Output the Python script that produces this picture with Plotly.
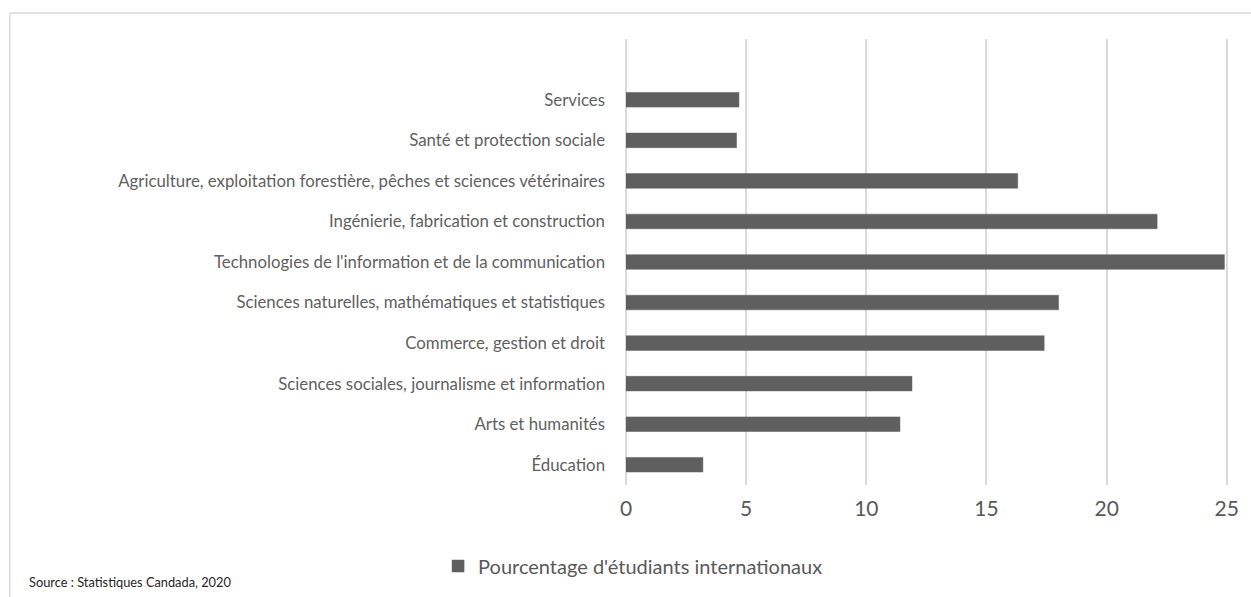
import plotly.graph_objects as go

categories = [
    "Éducation",
    "Arts et humanités",
    "Sciences sociales, journalisme et information",
    "Commerce, gestion et droit",
    "Sciences naturelles, mathématiques et statistiques",
    "Technologies de l'information et de la communication",
    "Ingénierie, fabrication et construction",
    "Agriculture, exploitation forestière, pêches et sciences vétérinaires",
    "Santé et protection sociale",
    "Services",
]
values = [3.2, 11.4, 11.9, 17.4, 18.0, 24.9, 22.1, 16.3, 4.6, 4.7]
x_ticks = [0, 5, 10, 15, 20, 25]
series_name = "Pourcentage d'étudiants internationaux"
source_text = "Source : Statistiques Candada, 2020"

W, H = 1251, 597
X_MAX = 25.05
L, T, B = 626, 39, 485  # plot area pixel bounds
PX_PER_UNIT = (1227 - 626) / 25.0
R = L + X_MAX * PX_PER_UNIT


def px_x(p):
    return (p - L) / (R - L)


def px_y(p):
    return (B - p) / (B - T)


FONT = "Lato"
GRID = "#d9d9d9"
fig = go.Figure()
fig.add_trace(go.Bar(
    y=categories, x=values, orientation="h", name=series_name,
    marker=dict(color="#5f5f5f", line=dict(color="#5f5f5f", width=0.5)),
    width=0.36, showlegend=True,
))

fig.update_layout(
    width=W, height=H,
    margin=dict(l=L, r=W - R, t=T, b=H - B, pad=0),
    paper_bgcolor="white", plot_bgcolor="white",
    xaxis=dict(
        range=[0, X_MAX], tickvals=x_ticks, showgrid=True, gridcolor=GRID,
        gridwidth=1.5, zeroline=True, zerolinecolor=GRID, zerolinewidth=1.5,
        showline=False,
        tickfont=dict(family=FONT, size=21, color="#595959"),
        ticks="", ticklabelstandoff=9, fixedrange=True,
    ),
    yaxis=dict(
        type="category", categoryorder="array", categoryarray=categories,
        range=[-0.5, 10.5], showgrid=False, zeroline=False, showline=False,
        tickfont=dict(family=FONT, size=16.8, color="#5f5f5f"),
        ticks="", ticklabelstandoff=20, fixedrange=True,
    ),
    legend=dict(
        orientation="h", x=px_x(438), xanchor="left", y=px_y(566), yanchor="middle",
        font=dict(family=FONT, size=20, color="#595959"), bgcolor="rgba(0,0,0,0)",
        itemwidth=30,
    ),
    showlegend=True,
    shapes=[
        dict(type="line", xref="paper", yref="paper", x0=px_x(9.5), x1=px_x(1260),
             y0=px_y(13), y1=px_y(13), line=dict(color=GRID, width=1.5)),
        dict(type="line", xref="paper", yref="paper", x0=px_x(9.5), x1=px_x(9.5),
             y0=px_y(13), y1=px_y(610), line=dict(color=GRID, width=1.5)),
    ],
    annotations=[
        dict(text=source_text, xref="paper", yref="paper", x=px_x(27), y=px_y(582),
             xanchor="left", yanchor="middle", showarrow=False,
             font=dict(family=FONT, size=12.8, color="#262626")),
    ],
)

fig.write_html("out.html", config={"displayModeBar": False})
